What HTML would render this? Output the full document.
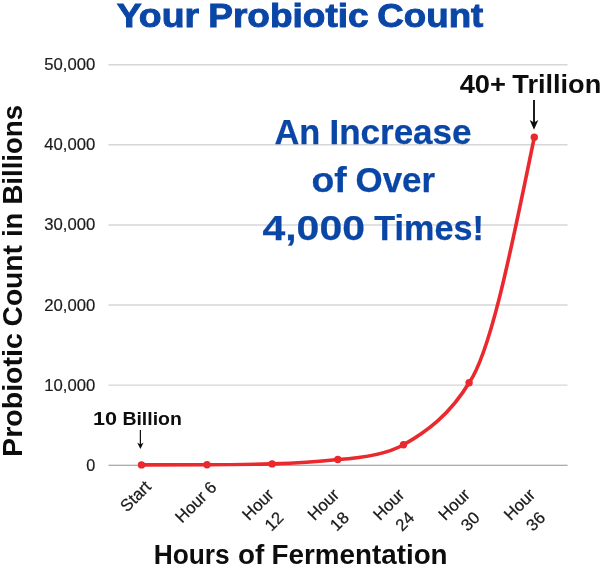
<!DOCTYPE html>
<html><head><meta charset="utf-8">
<style>
html,body{margin:0;padding:0;background:#fff;}
svg{display:block;}
text{font-family:"Liberation Sans",sans-serif;}
.b{font-weight:bold;}
</style></head><body>
<svg width="600" height="566" viewBox="0 0 600 566">
<rect width="600" height="566" fill="#fff"/>
<!-- grid -->
<g stroke="#d6d6d6" stroke-width="1.400">
<line x1="108.500" y1="64.800" x2="567.500" y2="64.800"/>
<line x1="108.500" y1="144.800" x2="567.500" y2="144.800"/>
<line x1="108.500" y1="225" x2="567.500" y2="225"/>
<line x1="108.500" y1="305.050" x2="567.500" y2="305.050"/>
<line x1="108.500" y1="385.150" x2="567.500" y2="385.150"/>
</g>
<line x1="108.500" y1="465.250" x2="567.500" y2="465.250" stroke="#929292" stroke-width="1.150"/>
<!-- y labels -->
<g font-size="16.200" fill="#1c1c1c" stroke="#1c1c1c" stroke-width="0.2" text-anchor="end">
<text id="t1" x="95.300" y="70" textLength="51" lengthAdjust="spacingAndGlyphs">50,000</text>
<text id="t2" x="95.300" y="150" textLength="51" lengthAdjust="spacingAndGlyphs">40,000</text>
<text id="t3" x="95.300" y="230.400" textLength="51" lengthAdjust="spacingAndGlyphs">30,000</text>
<text id="t4" x="95.300" y="310.500" textLength="51" lengthAdjust="spacingAndGlyphs">20,000</text>
<text id="t5" x="95.300" y="390.600" textLength="51" lengthAdjust="spacingAndGlyphs">10,000</text>
<text id="t6" x="95.300" y="470.600">0</text>
</g>
<!-- title -->
<g class="b" font-size="32.500" fill="#0a46a6" stroke="#0a46a6" stroke-width="0.9">
<text id="t7a" x="116.7" y="27.250" textLength="82.3" lengthAdjust="spacingAndGlyphs">Your</text>
<text id="t7b" x="208.2" y="27.250" textLength="160.5" lengthAdjust="spacingAndGlyphs">Probiotic</text>
<text id="t7c" x="377.3" y="27.250" textLength="106" lengthAdjust="spacingAndGlyphs">Count</text>
</g>
<!-- center text -->
<g class="b" font-size="35" fill="#0a46a6" stroke="#0a46a6" stroke-width="0.25">
<text id="t8a" x="274.5" y="143.8" textLength="45.8" lengthAdjust="spacingAndGlyphs">An</text>
<text id="t8b" x="329.5" y="143.8" textLength="142" lengthAdjust="spacingAndGlyphs">Increase</text>
<text id="t9a" x="311.5" y="191.8" textLength="35.3" lengthAdjust="spacingAndGlyphs">of</text>
<text id="t9b" x="355.5" y="191.8" textLength="79.5" lengthAdjust="spacingAndGlyphs">Over</text>
<text id="t10a" x="262.5" y="239.8" textLength="102.4" lengthAdjust="spacingAndGlyphs">4,000</text>
<text id="t10b" x="374.3" y="239.8" textLength="109.5" lengthAdjust="spacingAndGlyphs">Times!</text>
</g>
<!-- curve -->
<path d="M141.500 464.900 L207 464.800 C230 464.700 250 464.400 272.100 463.900 C295 463.300 318 461.800 337.800 459.500 C361 458 388.200 453.400 403.500 444.700 C426.600 431.600 449.800 414.700 469.100 382.700 C492.100 350.100 514.100 234.400 534.300 137.300" fill="none" stroke="#e9292d" stroke-width="3.600" stroke-linecap="round" stroke-linejoin="round"/>
<g fill="#e9292d">
<circle cx="141.500" cy="464.900" r="3.700"/><circle cx="207" cy="464.800" r="3.700"/><circle cx="272.100" cy="463.900" r="3.700"/>
<circle cx="337.800" cy="459.500" r="3.700"/><circle cx="403.500" cy="444.700" r="3.700"/><circle cx="469.100" cy="382.700" r="3.700"/><circle cx="534.300" cy="137.300" r="3.700"/>
</g>
<!-- annotations -->
<g class="b" font-size="19.200" fill="#0d0d0d">
<text id="t11a" x="93" y="425" textLength="24" lengthAdjust="spacingAndGlyphs">10</text>
<text id="t11b" x="122.4" y="425" textLength="59.5" lengthAdjust="spacingAndGlyphs">Billion</text>
</g>
<g stroke="#111" stroke-width="1.250" fill="#0d0d0d"><line x1="140.400" y1="430" x2="140.400" y2="445"/><path d="M137.300 442.700 L140.400 444.200 L143.500 442.700 L140.400 449 Z" stroke="none"/></g>
<g class="b" font-size="25.900" fill="#0d0d0d">
<text id="t12a" x="459.7" y="92.8" textLength="46.3" lengthAdjust="spacingAndGlyphs">40+</text>
<text id="t12b" x="512.3" y="92.8" textLength="89" lengthAdjust="spacingAndGlyphs">Trillion</text>
</g>
<g stroke="#111" stroke-width="1.900" fill="#0d0d0d"><line x1="534" y1="99.900" x2="534" y2="124"/><path d="M529.700 120 L534 122.600 L538.300 120 L534 129.800 Z" stroke="none"/></g>
<!-- x labels -->
<g font-size="16.700" fill="#1a1a1a" stroke="#1a1a1a" stroke-width="0.25" text-anchor="middle">
<text id="t13" transform="translate(135.500,496.200) rotate(-45)" x="0" y="5.700">Start</text>
<text id="t14" transform="translate(195.800,502) rotate(-45)" x="0" y="5.700">Hour 6</text>
<g transform="translate(263.0,509) rotate(-45)"><text id="t15" x="-0.450" y="-1.100">Hour</text><text id="t16" x="-0.950" y="22.200">12</text></g>
<g transform="translate(328.4,509) rotate(-45)"><text id="t17" x="-0.450" y="-1.100">Hour</text><text id="t18" x="-0.950" y="22.200">18</text></g>
<g transform="translate(393.8,509) rotate(-45)"><text id="t19" x="-0.450" y="-1.100">Hour</text><text id="t20" x="-0.950" y="22.200">24</text></g>
<g transform="translate(459.2,509) rotate(-45)"><text id="t21" x="-0.450" y="-1.100">Hour</text><text id="t22" x="-0.950" y="22.200">30</text></g>
<g transform="translate(524.6,509) rotate(-45)"><text id="t23" x="-0.450" y="-1.100">Hour</text><text id="t24" x="-0.950" y="22.200">36</text></g>
</g>
<!-- axis titles -->
<g class="b" font-size="27" fill="#0d0d0d">
<text id="t25a" x="153.7" y="564.2" textLength="76" lengthAdjust="spacingAndGlyphs">Hours</text>
<text id="t25b" x="237.9" y="564.2" textLength="26.3" lengthAdjust="spacingAndGlyphs">of</text>
<text id="t25c" x="271.6" y="564.2" textLength="176" lengthAdjust="spacingAndGlyphs">Fermentation</text>
</g>
<g class="b" font-size="28" fill="#0d0d0d" transform="translate(22.100,0) rotate(-90)">
<text id="t26a" x="-456.900" y="0" textLength="123.700" lengthAdjust="spacingAndGlyphs">Probiotic</text>
<text id="t26b" x="-326.5" y="0" textLength="81.5" lengthAdjust="spacingAndGlyphs">Count</text>
<text id="t26c" x="-237" y="0" textLength="24.3" lengthAdjust="spacingAndGlyphs">in</text>
<text id="t26d" x="-204.6" y="0" textLength="99.6" lengthAdjust="spacingAndGlyphs">Billions</text>
</g>
</svg>
</body></html>
